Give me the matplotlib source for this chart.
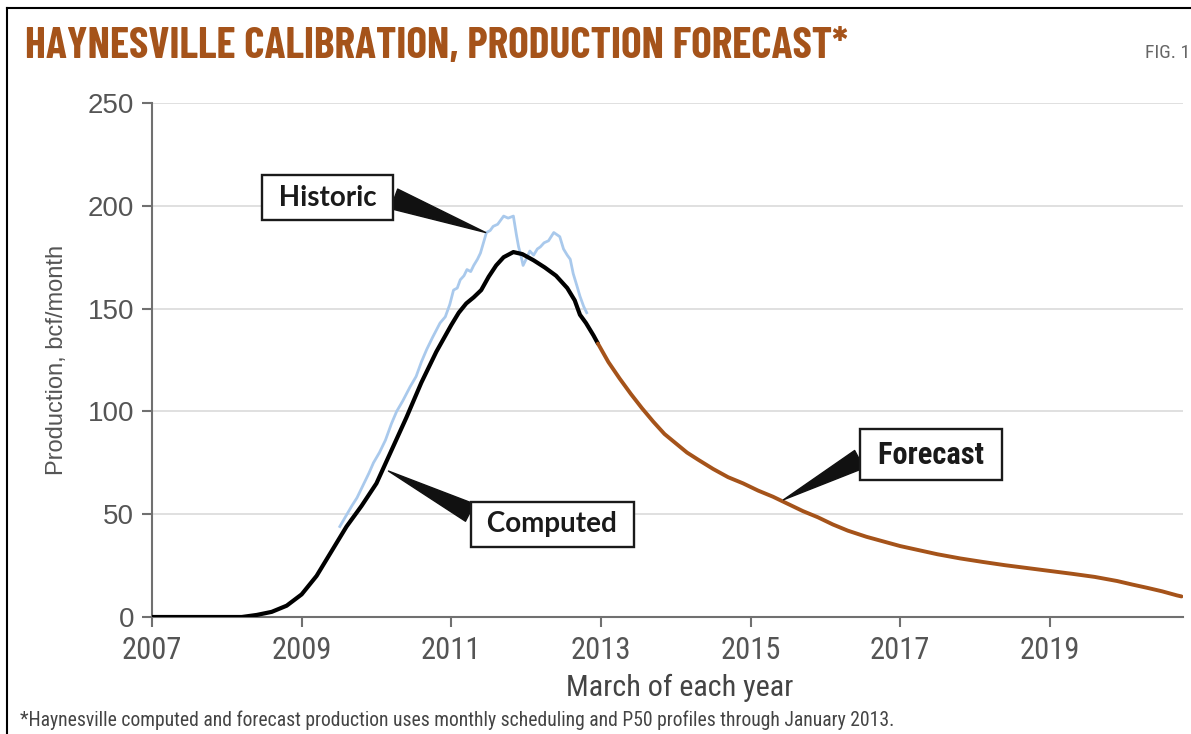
import matplotlib
matplotlib.use("Agg")
import matplotlib.pyplot as plt
from matplotlib.lines import Line2D

# computed production (bcf/month), March-based year axis
computed_year = [2007.0, 2008.2, 2008.4, 2008.6, 2008.8, 2009.0, 2009.2, 2009.4, 2009.6, 2009.8,
                 2010.0, 2010.2, 2010.4, 2010.6, 2010.8, 2011.0, 2011.1, 2011.2, 2011.3, 2011.4,
                 2011.5, 2011.6, 2011.7, 2011.83, 2011.95, 2012.1, 2012.25, 2012.4, 2012.55,
                 2012.65, 2012.72, 2012.8, 2012.9, 2012.96]
computed_prod = [0, 0, 1, 2.5, 5.5, 11, 20, 32, 44, 54,
                 65, 81, 97, 114, 129, 142, 148, 152.5, 155.5, 159,
                 165.5, 171, 175, 177.5, 176.5, 173.5, 170, 166, 160,
                 154, 147, 143, 137, 133]

# historic production
historic_year = [2009.51, 2009.59, 2009.67, 2009.74, 2009.82, 2009.9, 2009.96, 2010.04, 2010.12,
                 2010.2, 2010.27, 2010.35, 2010.45, 2010.53, 2010.6, 2010.67, 2010.75, 2010.85,
                 2010.92, 2010.98, 2011.03, 2011.08, 2011.12, 2011.17, 2011.21, 2011.26, 2011.3,
                 2011.35, 2011.39, 2011.43, 2011.47, 2011.52, 2011.56, 2011.62, 2011.66, 2011.7,
                 2011.76, 2011.83, 2011.87, 2011.9, 2011.93, 2011.96, 2012.0, 2012.05, 2012.1,
                 2012.15, 2012.19, 2012.24, 2012.3, 2012.37, 2012.41, 2012.45, 2012.5, 2012.55,
                 2012.59, 2012.63, 2012.68, 2012.72, 2012.77, 2012.81]
historic_prod = [44, 49, 54, 58, 64, 70, 75, 80, 86,
                 94, 100, 105, 112, 117, 124, 130, 136, 143,
                 146, 152, 159, 160, 164, 166, 169, 168, 171,
                 174, 177, 182, 187, 188, 190, 191, 193, 195,
                 194, 195, 186, 180, 176, 171, 174, 178, 176,
                 179, 180, 182, 183, 187, 186, 185, 179, 176,
                 174, 167, 161, 156, 151, 148]

# forecast production
forecast_year = [2012.96, 2013.1, 2013.25, 2013.4, 2013.55, 2013.7, 2013.85, 2014.0, 2014.15,
                 2014.3, 2014.5, 2014.7, 2014.9, 2015.1, 2015.3, 2015.5, 2015.7, 2015.9,
                 2016.1, 2016.3, 2016.55, 2016.8, 2017.0, 2017.25, 2017.5, 2017.8, 2018.1,
                 2018.4, 2018.7, 2019.0, 2019.3, 2019.6, 2019.9, 2020.1, 2020.3, 2020.5,
                 2020.7, 2020.76]
forecast_prod = [133, 124, 116, 108.5, 101.5, 95, 89, 84.5, 80,
                 76.5, 72, 68, 65, 61.5, 58.5, 55, 51.5, 48.5,
                 45, 42, 39, 36.5, 34.5, 32.5, 30.5, 28.5, 26.8,
                 25.2, 23.8, 22.4, 21, 19.5, 17.5, 15.8, 14.2, 12.5,
                 10.5, 10]

year_ticks = [2007, 2009, 2011, 2013, 2015, 2017, 2019]
prod_ticks = [0, 50, 100, 150, 200, 250]

W, H = 1191, 734
BROWN = "#a5531a"
GREY = "#555555"
COND = "Roboto Condensed"

fig = plt.figure(figsize=(W / 100, H / 100), dpi=100)
ax = fig.add_axes([152 / W, 1 - 617 / H, (1183 - 152) / W, (617 - 103) / H])
renderer = fig.canvas.get_renderer()


def fit_width(artist, target_px):
    # scale the font so the text spans target_px on the canvas
    w = artist.get_window_extent(renderer).width
    artist.set_fontsize(artist.get_fontsize() * target_px / w)


ax.plot(historic_year, historic_prod, color="#a9c9ec", lw=2.0, zorder=3)
ax.plot(computed_year, computed_prod, color="black", lw=3.0, zorder=4,
        solid_joinstyle="round", solid_capstyle="round")
ax.plot(forecast_year, forecast_prod, color=BROWN, lw=2.8, zorder=4,
        solid_joinstyle="round", solid_capstyle="round")

ax.set_xlim(2007, 2020.78)
ax.set_ylim(0, 250)
ax.set_xticks(year_ticks)
ax.set_yticks(prod_ticks)
ax.grid(axis="y", color="#dadada", lw=1.2, zorder=0)
ax.set_axisbelow(True)

for side in ("top", "right"):
    ax.spines[side].set_visible(False)
for side in ("left", "bottom"):
    ax.spines[side].set_color("#707070")
    ax.spines[side].set_linewidth(1.5)

ax.tick_params(axis="both", direction="out", length=7, width=1.5, color="#707070")
ax.tick_params(axis="y", labelsize=20, labelcolor=GREY, pad=6)
ax.tick_params(axis="x", labelsize=22, labelcolor=GREY, pad=7)
for lab in ax.get_xticklabels():
    lab.set_family(COND)
for lab in ax.get_yticklabels():
    lab.set_family("Liberation Sans")

ax.set_ylabel("Production, bcf/month", fontsize=17, color=GREY,
              family="Liberation Sans", labelpad=14)

xlab = fig.text(680 / W, 1 - 688 / H, "March of each year", fontsize=21, color="#444444",
                family=COND, ha="center", va="center")
fit_width(xlab, 227)


# callout boxes with wedge pointers
def callout(text, xy, xytext, relpos, family, size, tail):
    return ax.annotate(text, xy=xy, xytext=xytext, textcoords="data",
                       ha="center", va="center", fontsize=size, fontweight="bold",
                       family=family, color="#1a1a1a", zorder=6,
                       bbox=dict(boxstyle="square,pad=0.35", fc="white", ec="#1a1a1a", lw=1.7),
                       arrowprops=dict(arrowstyle="wedge,tail_width=%s" % tail, fc="#111111",
                                       ec="#111111", relpos=relpos, shrinkA=0, shrinkB=0))


callout(" Historic ", (2011.46, 187), (2009.35, 204), (1.0, 0.6), "Lato", 20, 0.75)
callout(" Computed ", (2010.16, 71), (2012.35, 45), (0.0, 0.75), "Lato", 20, 0.7)
callout(" Forecast ", (2015.44, 57), (2017.41, 79), (0.0, 0.55), COND, 22, 0.65)

title = fig.text(25 / W, 1 - 58 / H, "HAYNESVILLE CALIBRATION, PRODUCTION FORECAST*",
                 fontsize=28, fontweight="bold", family="Barlow Condensed", color=BROWN,
                 va="baseline")
fit_width(title, 826)
fig.text(1145 / W, 1 - 53 / H, "FIG. 1", fontsize=14, family=COND, color="#666666",
         va="center")
note = fig.text(20 / W, 1 - 720 / H,
                "*Haynesville computed and forecast production uses monthly scheduling and P50 "
                "profiles through January 2013.",
                fontsize=13, family=COND, color="#444444", va="center")
fit_width(note, 870)

# thin frame on the left and top edges
fig.add_artist(Line2D([7 / W, 7 / W], [0, 1 - 8 / H], transform=fig.transFigure,
                      color="black", lw=1.5))
fig.add_artist(Line2D([7 / W, 1], [1 - 8 / H, 1 - 8 / H], transform=fig.transFigure,
                      color="black", lw=1.5))

fig.savefig("out.png", dpi=100, facecolor="white")
